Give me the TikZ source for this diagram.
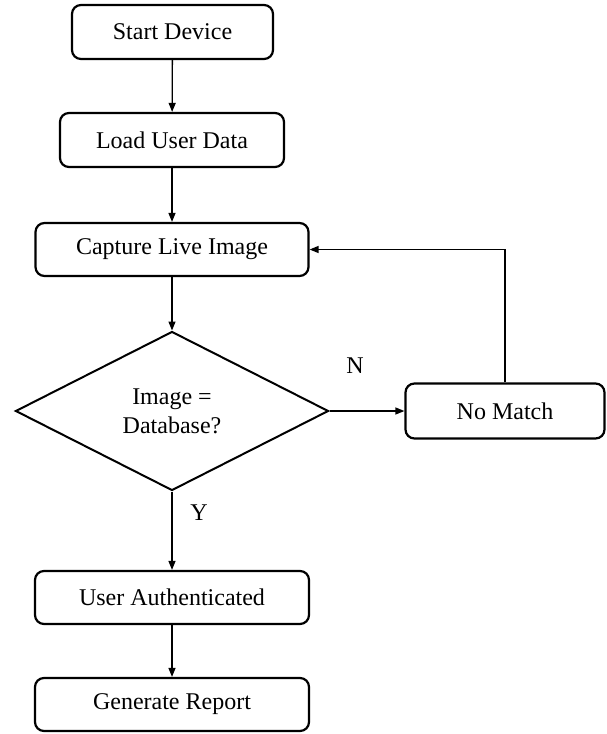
\documentclass[tikz,border=0pt]{standalone}
\usepackage{fontspec}
\setmainfont{Liberation Serif}
\usetikzlibrary{shapes.geometric,arrows.meta}

\tikzset{
  procbox/.style={draw, line width=2.2pt, rounded corners=9pt, fill=white,
    inner sep=0pt, font=\fontsize{24}{29}\selectfont},
  decision/.style={draw, diamond, line width=2pt, inner sep=0pt, align=center,
    minimum width=313pt, minimum height=159pt,
    font=\fontsize{24}{29}\selectfont},
  flowlabel/.style={inner sep=0pt, font=\fontsize{24}{29}\selectfont},
  arr/.style={line width=1.3pt, -{Triangle[length=9pt,width=7pt]}}
}

\begin{document}
\begin{tikzpicture}[x=1pt, y=-1pt]
  \useasboundingbox (0,0) rectangle (607,734);

  % process steps
  \node[procbox, minimum width=201pt, minimum height=54pt] (start)   at (172.5,32)  {Start Device};
  \node[procbox, minimum width=224pt, minimum height=54pt] (load)    at (172,140)   {Load User Data};
  \node[procbox, minimum width=273pt, minimum height=53pt] (capture) at (172,249.5) {Capture Live Image};
  \node[decision] (check) at (172,411) {Image =\\Database?};
  \node[procbox, minimum width=199pt, minimum height=55pt] (nomatch) at (505,411) {No Match};
  \node[procbox, minimum width=274pt, minimum height=53pt] (auth)    at (172,597.5) {User Authenticated};
  \node[procbox, minimum width=274pt, minimum height=53pt] (report)  at (172,704.5) {Generate Report};

  % branch labels
  \node[flowlabel] (nlab) at (355,366) {N};
  \node[flowlabel] (ylab) at (199,513) {Y};

  % connectors
  \draw[arr] (start) -- (load);
  \draw[arr] (load) -- (capture);
  \draw[arr] (capture) -- (check.north);
  \draw[arr] (check.east) -- (nomatch.west);
  \draw[arr] (nomatch.north) |- (capture.east);
  \draw[arr] (check.south) -- (auth.north);
  \draw[arr] (auth) -- (report);
\end{tikzpicture}
\end{document}
